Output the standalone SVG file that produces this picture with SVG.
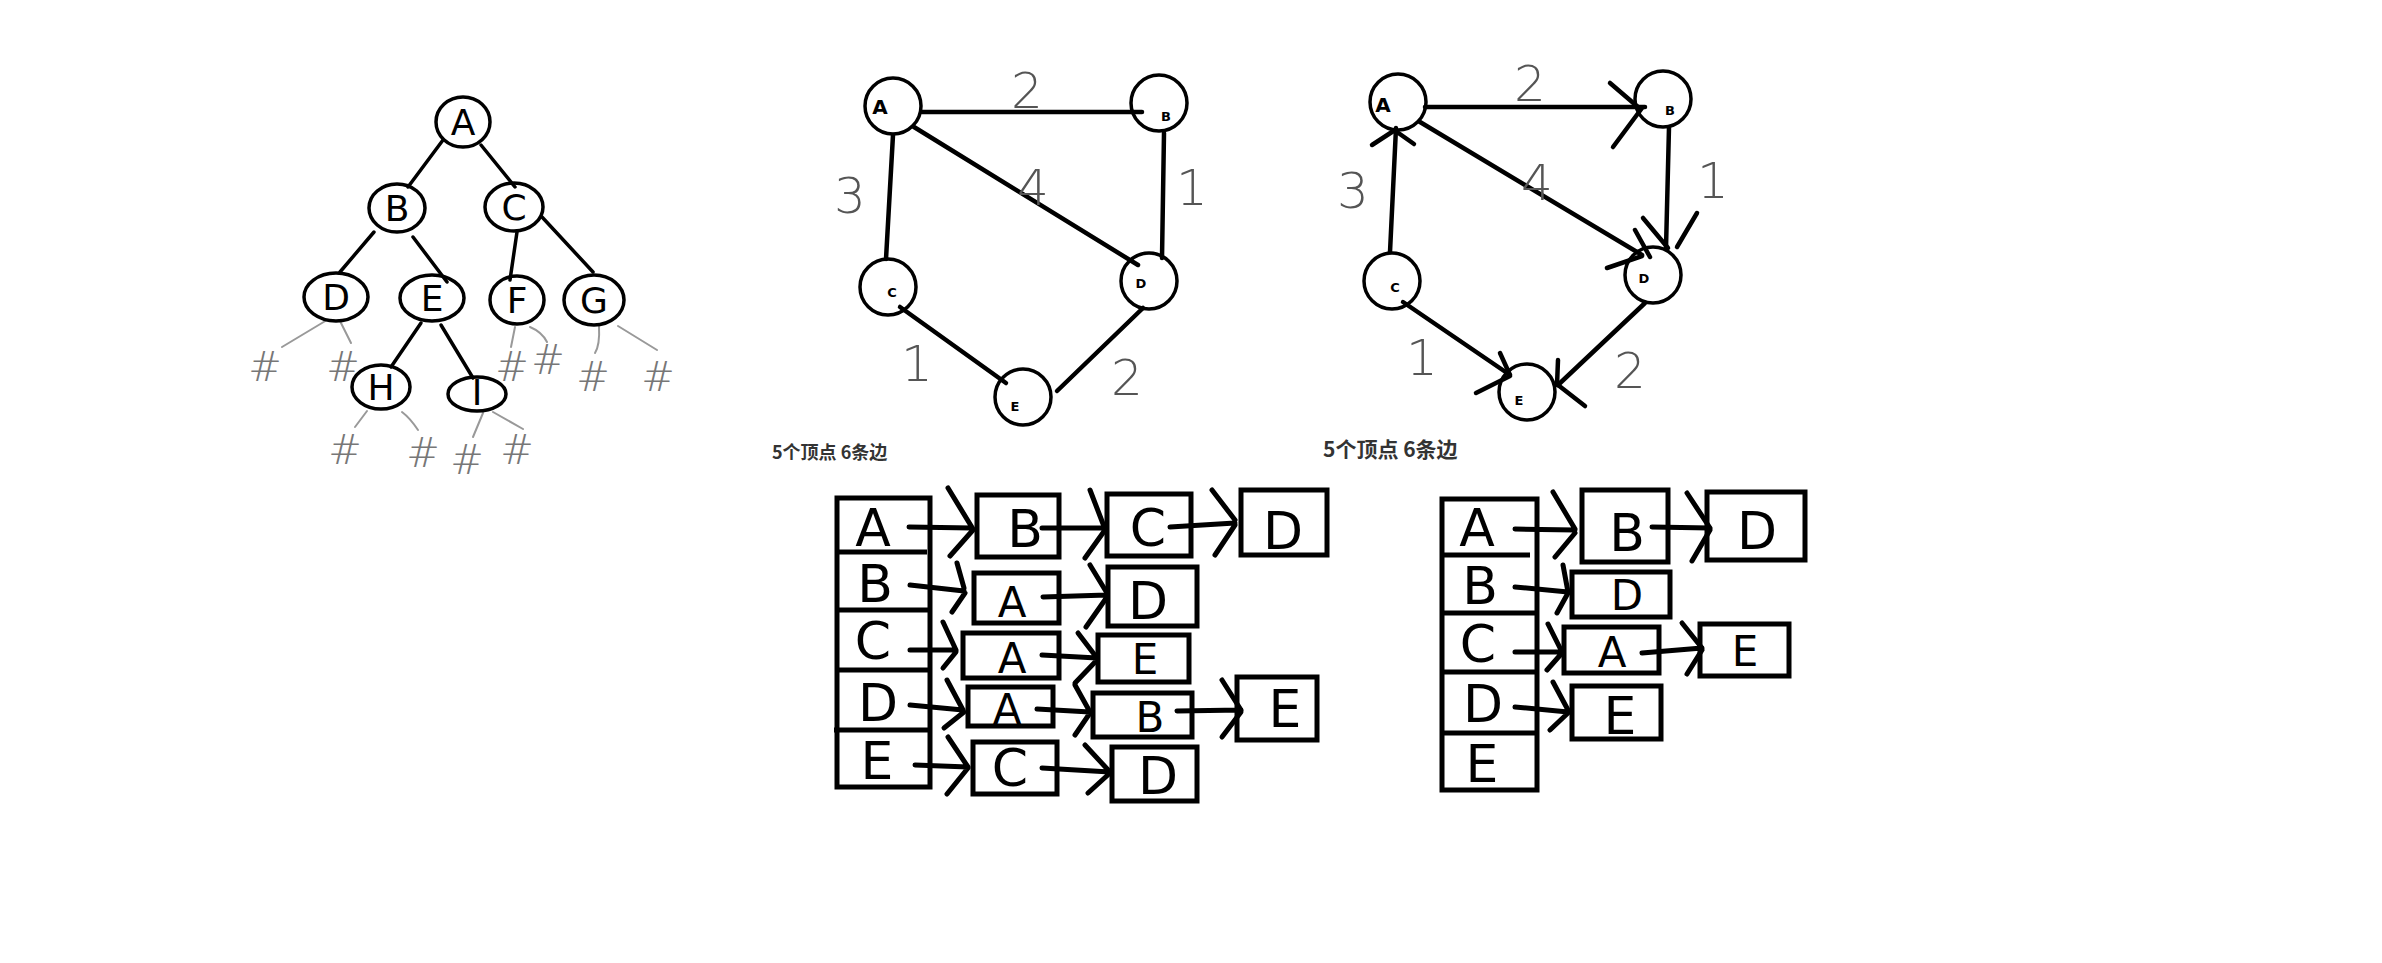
<svg xmlns="http://www.w3.org/2000/svg" width="2382" height="963" viewBox="0 0 2382 963">
<style>
.n{fill:none;stroke:#000;stroke-width:3.5}
.e{fill:none;stroke:#000;stroke-width:3.5;stroke-linecap:round}
.e2{fill:none;stroke:#000;stroke-width:4.5;stroke-linecap:round}
.g{fill:none;stroke:#999;stroke-width:2;stroke-linecap:round}
.hash{font-family:"DejaVu Sans",sans-serif;font-size:40px;font-weight:200;fill:#777;text-anchor:middle}
.tl{font-family:"DejaVu Sans",sans-serif;font-size:36px;text-anchor:middle;fill:#000}
.w{font-family:"DejaVu Sans",sans-serif;font-size:50px;font-weight:200;fill:#555;text-anchor:middle}
.gl{font-family:"DejaVu Sans",sans-serif;font-size:13px;font-weight:bold;text-anchor:middle;fill:#000}
.ga{font-family:"DejaVu Sans",sans-serif;font-size:20px;font-weight:bold;text-anchor:middle;fill:#000}
.lb{fill:none;stroke:#000;stroke-width:5}
.la{fill:none;stroke:#000;stroke-width:5;stroke-linecap:round}
.ll{font-family:"DejaVu Sans",sans-serif;font-size:52px;text-anchor:middle;fill:#000}
.ls{font-family:"DejaVu Sans",sans-serif;font-size:42px;text-anchor:middle;fill:#000}
.cap{font-family:"Noto Sans CJK SC",sans-serif;font-weight:bold;fill:#333}
</style>
<rect width="2382" height="963" fill="#fff"/>

<!-- ===== Tree ===== -->
<g id="tree-connectors">
<line class="e" x1="443" y1="140" x2="408" y2="187"/>
<line class="e" x1="481" y1="145" x2="515" y2="187"/>
<line class="e" x1="374" y1="232" x2="340" y2="272"/>
<line class="e" x1="413" y1="237" x2="447" y2="282"/>
<line class="e" x1="517" y1="232" x2="510" y2="280"/>
<line class="e" x1="542" y1="217" x2="593" y2="272"/>
<line class="e" x1="421" y1="323" x2="391" y2="367"/>
<line class="e" x1="441" y1="325" x2="473" y2="378"/>
<path class="g" d="M327 320 L282 347"/>
<path class="g" d="M340 321 L351 343"/>
<path class="g" d="M367 411 L355 427"/>
<path class="g" d="M402 412 Q410 418 418 430"/>
<path class="g" d="M483 413 L473 437"/>
<path class="g" d="M493 412 L523 429"/>
<path class="g" d="M515 327 L511 347"/>
<path class="g" d="M530 327 Q542 332 547 342"/>
<path class="g" d="M599 326 Q600 345 595 353"/>
<path class="g" d="M618 326 L657 350"/>
</g>
<g id="tree-A"><ellipse class="n" cx="463" cy="122" rx="27" ry="25"/><text class="tl" x="463" y="135">A</text></g>
<g id="tree-B"><ellipse class="n" cx="397" cy="208" rx="28" ry="24"/><text class="tl" x="397" y="221">B</text></g>
<g id="tree-C"><ellipse class="n" cx="514" cy="207" rx="29" ry="24"/><text class="tl" x="514" y="220">C</text></g>
<g id="tree-D"><ellipse class="n" cx="336" cy="297" rx="32" ry="24"/><text class="tl" x="336" y="310">D</text></g>
<g id="tree-E"><ellipse class="n" cx="432" cy="298" rx="32" ry="23"/><text class="tl" x="432" y="311">E</text></g>
<g id="tree-F"><ellipse class="n" cx="517" cy="300" rx="27" ry="24"/><text class="tl" x="517" y="313">F</text></g>
<g id="tree-G"><ellipse class="n" cx="594" cy="300" rx="30" ry="25"/><text class="tl" x="594" y="313">G</text></g>
<g id="tree-H"><ellipse class="n" cx="381" cy="387" rx="29" ry="22"/><text class="tl" x="381" y="400">H</text></g>
<g id="tree-I"><ellipse class="n" cx="477" cy="394" rx="29" ry="17"/><text class="tl" x="477" y="405">I</text></g>
<g id="tree-nulls">
<text class="hash" x="265" y="381">#</text>
<text class="hash" x="343" y="381">#</text>
<text class="hash" x="345" y="464">#</text>
<text class="hash" x="423" y="467">#</text>
<text class="hash" x="467" y="474">#</text>
<text class="hash" x="517" y="464">#</text>
<text class="hash" x="512" y="381">#</text>
<text class="hash" x="548" y="374">#</text>
<text class="hash" x="593" y="391">#</text>
<text class="hash" x="658" y="391">#</text>
</g>

<!-- ===== Undirected graph ===== -->
<g id="g1-connectors">
<line class="e2" x1="922" y1="112" x2="1142" y2="112"/>
<line class="e2" x1="893" y1="135" x2="886" y2="259"/>
<line class="e2" x1="914" y1="127" x2="1138" y2="265"/>
<line class="e2" x1="1164" y1="133" x2="1162" y2="258"/>
<line class="e2" x1="900" y1="307" x2="1006" y2="383"/>
<line class="e2" x1="1143" y1="308" x2="1057" y2="391"/>
<text class="w" x="1027" y="108">2</text>
<text class="w" x="850" y="213">3</text>
<text class="w" x="1033" y="205">4</text>
<text class="w" x="1192" y="205">1</text>
<text class="w" x="917" y="381">1</text>
<text class="w" x="1127" y="395">2</text>
</g>
<g id="g1-A"><circle class="n" cx="893" cy="106" r="28"/><text class="ga" x="880" y="114">A</text></g>
<g id="g1-B"><circle class="n" cx="1159" cy="103" r="28"/><text class="gl" x="1166" y="121">B</text></g>
<g id="g1-C"><circle class="n" cx="888" cy="287" r="28"/><text class="gl" x="892" y="297">C</text></g>
<g id="g1-D"><circle class="n" cx="1149" cy="281" r="28"/><text class="gl" x="1141" y="288">D</text></g>
<g id="g1-E"><circle class="n" cx="1023" cy="397" r="28"/><text class="gl" x="1015" y="411">E</text></g>
<text class="cap" x="772" y="459" font-size="18">5个顶点 6条边</text>

<!-- ===== Directed graph ===== -->
<g id="g2-connectors">
<line class="e2" x1="1425" y1="107" x2="1645" y2="107"/>
<path class="e2" d="M1610 83 L1638 107 M1613 147 L1642 108"/>
<line class="e2" x1="1390" y1="252" x2="1396" y2="128"/>
<path class="e2" d="M1372 145 L1395 130 M1414 144 L1397 132"/>
<line class="e2" x1="1420" y1="122" x2="1642" y2="255"/>
<path class="e2" d="M1635 230 L1650 257 M1607 268 L1642 256"/>
<line class="e2" x1="1669" y1="127" x2="1666" y2="248"/>
<path class="e2" d="M1643 218 L1668 248 M1697 213 L1677 247"/>
<line class="e2" x1="1403" y1="302" x2="1510" y2="375"/>
<path class="e2" d="M1500 353 L1510 375 M1476 393 L1510 376"/>
<line class="e2" x1="1645" y1="303" x2="1558" y2="385"/>
<path class="e2" d="M1558 360 L1557 385 M1585 406 L1558 385"/>
<text class="w" x="1530" y="101">2</text>
<text class="w" x="1353" y="208">3</text>
<text class="w" x="1537" y="200">4</text>
<text class="w" x="1713" y="198">1</text>
<text class="w" x="1422" y="375">1</text>
<text class="w" x="1630" y="388">2</text>
</g>
<g id="g2-A"><circle class="n" cx="1398" cy="102" r="28"/><text class="ga" x="1383" y="112">A</text></g>
<g id="g2-B"><circle class="n" cx="1663" cy="99" r="28"/><text class="gl" x="1670" y="115">B</text></g>
<g id="g2-C"><circle class="n" cx="1392" cy="281" r="28"/><text class="gl" x="1395" y="292">C</text></g>
<g id="g2-D"><circle class="n" cx="1653" cy="275" r="28"/><text class="gl" x="1644" y="283">D</text></g>
<g id="g2-E"><circle class="n" cx="1527" cy="392" r="28"/><text class="gl" x="1519" y="405">E</text></g>
<text class="cap" x="1323" y="457" font-size="21">5个顶点 6条边</text>

<!-- ===== Adjacency list 1 ===== -->
<g id="list1-head">
<rect class="lb" x="837" y="498" width="93" height="289"/>
<line class="lb" x1="835" y1="552" x2="927" y2="552"/>
<line class="lb" x1="837" y1="610" x2="930" y2="610"/>
<line class="lb" x1="837" y1="670" x2="930" y2="670"/>
<line class="lb" x1="834" y1="730" x2="930" y2="730"/>
<text class="ll" x="873" y="546">A</text>
<text class="ll" x="875" y="602">B</text>
<text class="ll" x="873" y="659">C</text>
<text class="ll" x="878" y="721">D</text>
<text class="ll" x="877" y="779">E</text>
</g>
<g id="l1-AB"><rect class="lb" x="977" y="495" width="82" height="62"/><text class="ll" x="1025" y="547">B</text></g>
<g id="l1-AC"><rect class="lb" x="1107" y="494" width="84" height="62"/><text class="ll" x="1148" y="546">C</text></g>
<g id="l1-AD"><rect class="lb" x="1241" y="490" width="86" height="65"/><text class="ll" x="1283" y="549">D</text></g>
<g id="l1-BA"><rect class="lb" x="974" y="573" width="85" height="50"/><text class="ls" x="1012" y="617">A</text></g>
<g id="l1-BD"><rect class="lb" x="1108" y="567" width="89" height="59"/><text class="ll" x="1148" y="619">D</text></g>
<g id="l1-CA"><rect class="lb" x="963" y="633" width="96" height="45"/><text class="ls" x="1012" y="673">A</text></g>
<g id="l1-CE"><rect class="lb" x="1098" y="635" width="91" height="47"/><text class="ls" x="1145" y="674">E</text></g>
<g id="l1-DA"><rect class="lb" x="968" y="687" width="85" height="39"/><text class="ls" x="1007" y="724">A</text></g>
<g id="l1-DB"><rect class="lb" x="1093" y="693" width="99" height="44"/><text class="ls" x="1150" y="732">B</text></g>
<g id="l1-DE"><rect class="lb" x="1237" y="677" width="80" height="63"/><text class="ll" x="1285" y="727">E</text></g>
<g id="l1-EC"><rect class="lb" x="973" y="742" width="84" height="52"/><text class="ll" x="1010" y="786">C</text></g>
<g id="l1-ED"><rect class="lb" x="1112" y="747" width="85" height="54"/><text class="ll" x="1158" y="794">D</text></g>
<g id="list1-connectors">
<path class="la" d="M909 527 L972 528 M948 488 L973 529 M950 556 L973 530"/>
<path class="la" d="M1042 528 L1103 528 M1090 490 L1105 529 M1085 558 L1105 530"/>
<path class="la" d="M1170 527 L1235 523 M1212 490 L1235 520 M1215 555 L1235 525"/>
<path class="la" d="M910 585 L964 591 M957 563 L964 588 M952 612 L965 593"/>
<path class="la" d="M1043 597 L1107 595 M1090 565 L1107 593 M1086 627 L1107 597"/>
<path class="la" d="M910 650 L955 650 M943 622 L956 650 M943 668 L956 652"/>
<path class="la" d="M1042 655 L1097 658 M1078 633 L1097 658 M1075 683 L1097 660"/>
<path class="la" d="M910 705 L963 710 M947 680 L963 710 M944 728 L964 712"/>
<path class="la" d="M1037 709 L1090 712 M1075 685 L1090 712 M1075 735 L1090 713"/>
<path class="la" d="M1177 711 L1241 710 M1222 680 L1241 710 M1222 737 L1241 712"/>
<path class="la" d="M915 765 L968 767 M948 737 L968 767 M947 794 L968 768"/>
<path class="la" d="M1042 768 L1110 772 M1085 745 L1110 772 M1088 793 L1110 773"/>
</g>

<!-- ===== Adjacency list 2 ===== -->
<g id="list2-head">
<rect class="lb" x="1442" y="499" width="95" height="291"/>
<line class="lb" x1="1440" y1="555" x2="1530" y2="555"/>
<line class="lb" x1="1442" y1="613" x2="1537" y2="613"/>
<line class="lb" x1="1442" y1="672" x2="1537" y2="672"/>
<line class="lb" x1="1440" y1="733" x2="1537" y2="733"/>
<text class="ll" x="1477" y="546">A</text>
<text class="ll" x="1480" y="604">B</text>
<text class="ll" x="1478" y="662">C</text>
<text class="ll" x="1483" y="722">D</text>
<text class="ll" x="1482" y="782">E</text>
</g>
<g id="l2-AB"><rect class="lb" x="1582" y="490" width="86" height="72"/><text class="ll" x="1627" y="551">B</text></g>
<g id="l2-AD"><rect class="lb" x="1707" y="492" width="98" height="68"/><text class="ll" x="1757" y="549">D</text></g>
<g id="l2-BD"><rect class="lb" x="1572" y="572" width="98" height="45"/><text class="ls" x="1627" y="610">D</text></g>
<g id="l2-CA"><rect class="lb" x="1564" y="627" width="95" height="46"/><text class="ls" x="1612" y="667">A</text></g>
<g id="l2-CE"><rect class="lb" x="1700" y="624" width="89" height="52"/><text class="ls" x="1745" y="666">E</text></g>
<g id="l2-DE"><rect class="lb" x="1572" y="686" width="89" height="53"/><text class="ll" x="1620" y="734">E</text></g>
<g id="list2-connectors">
<path class="la" d="M1515 529 L1575 530 M1553 492 L1575 529 M1555 557 L1575 533"/>
<path class="la" d="M1652 527 L1710 528 M1687 493 L1710 528 M1692 561 L1710 530"/>
<path class="la" d="M1515 587 L1568 592 M1563 565 L1568 592 M1557 613 L1568 593"/>
<path class="la" d="M1515 652 L1562 652 M1548 624 L1562 652 M1547 670 L1562 653"/>
<path class="la" d="M1642 653 L1702 648 M1682 623 L1702 648 M1687 674 L1702 650"/>
<path class="la" d="M1515 707 L1568 712 M1553 682 L1568 710 M1550 730 L1568 713"/>
</g>
</svg>
